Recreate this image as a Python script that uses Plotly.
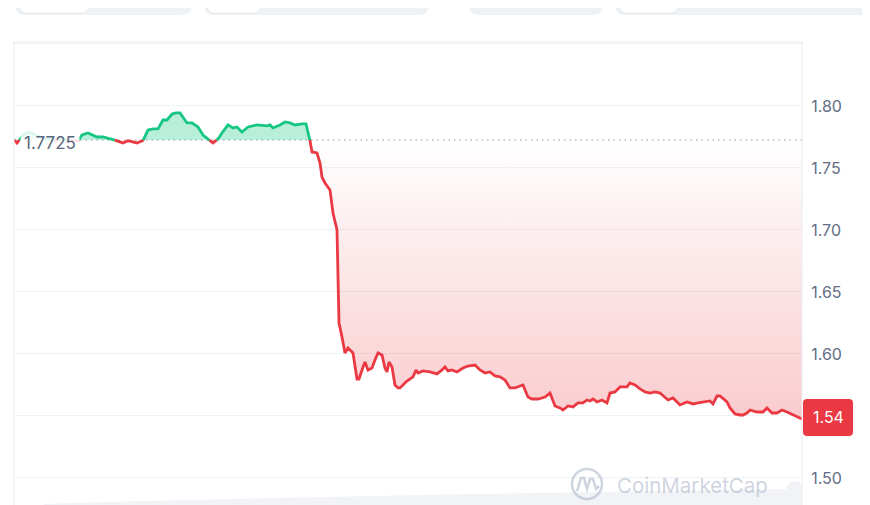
import math

import plotly.graph_objects as go

# 24h price line, baseline = opening price (dotted reference)
BASE = 1.7725

# time offset along the x axis (arbitrary units)
t = [0, 3, 10, 15, 20, 26, 34, 42, 50, 58, 64, 68, 74, 79, 83, 89, 93, 98, 103, 109,
     114, 119, 123, 129, 134, 139, 144, 149, 153, 158, 162, 166, 170, 173, 178, 184, 189, 194, 199, 204,
     208, 214, 219, 223, 228, 234, 243, 249, 253, 256, 259, 266, 271, 276, 281, 288, 292, 296, 298, 303,
     306, 308, 311, 316, 319, 323, 325, 328, 331, 334, 339, 343, 345, 349, 351, 354, 358, 361, 364, 368,
     371, 373, 375, 378, 381, 384, 386, 390, 393, 399, 402, 404, 409, 416, 423, 428, 431, 434, 438, 443,
     449, 454, 461, 466, 471, 476, 481, 486, 491, 496, 501, 506, 509, 514, 518, 524, 531, 536, 541, 546,
     549, 554, 559, 564, 569, 573, 576, 579, 583, 588, 593, 596, 601, 606, 613, 616, 621, 626, 631, 636,
     641, 646, 651, 654, 659, 666, 673, 679, 684, 691, 696, 699, 703, 706, 713, 716, 721, 726, 729, 733,
     736, 743, 749, 753, 758, 763, 768, 773, 779, 788]

price = [1.7730, 1.7702, 1.7774, 1.7790, 1.7774, 1.7750, 1.7734, 1.7722, 1.7730, 1.7718,
         1.7718, 1.7766, 1.7782, 1.7766, 1.7750, 1.7750, 1.7742, 1.7734, 1.7718, 1.7702,
         1.7720, 1.7710, 1.7702, 1.7722, 1.7806, 1.7815, 1.7815, 1.7887, 1.7887, 1.7935,
         1.7944, 1.7944, 1.7903, 1.7863, 1.7863, 1.7831, 1.7766, 1.7734, 1.7702, 1.7734,
         1.7782, 1.7847, 1.7823, 1.7831, 1.7790, 1.7831, 1.7847, 1.7839, 1.7839, 1.7847,
         1.7823, 1.7847, 1.7871, 1.7863, 1.7847, 1.7855, 1.7855, 1.7720, 1.7629, 1.7621,
         1.7540, 1.7427, 1.7379, 1.7323, 1.7137, 1.7000, 1.6250, 1.6137, 1.6008, 1.6048,
         1.6008, 1.5798, 1.5798, 1.5895, 1.5935, 1.5871, 1.5887, 1.5952, 1.6008, 1.5992,
         1.5887, 1.5855, 1.5935, 1.5895, 1.5750, 1.5726, 1.5726, 1.5758, 1.5782, 1.5815,
         1.5871, 1.5847, 1.5863, 1.5855, 1.5839, 1.5871, 1.5895, 1.5863, 1.5871, 1.5855,
         1.5887, 1.5903, 1.5911, 1.5871, 1.5847, 1.5855, 1.5823, 1.5815, 1.5790, 1.5726,
         1.5726, 1.5742, 1.5750, 1.5653, 1.5637, 1.5637, 1.5653, 1.5685, 1.5581, 1.5565,
         1.5548, 1.5581, 1.5573, 1.5605, 1.5605, 1.5629, 1.5621, 1.5637, 1.5613, 1.5629,
         1.5605, 1.5685, 1.5694, 1.5734, 1.5734, 1.5766, 1.5750, 1.5718, 1.5694, 1.5685,
         1.5694, 1.5685, 1.5653, 1.5629, 1.5645, 1.5589, 1.5613, 1.5597, 1.5605, 1.5613,
         1.5621, 1.5597, 1.5661, 1.5661, 1.5613, 1.5565, 1.5516, 1.5508, 1.5508, 1.5524,
         1.5548, 1.5532, 1.5532, 1.5565, 1.5524, 1.5524, 1.5548, 1.5532, 1.5508, 1.5476]

# faint volume strip along the bottom
vol_t = [30, 120, 220, 320, 420, 520, 620, 700, 760, 772, 776, 786, 788]
vol = [0.2, 0.8, 1.3, 1.8, 2.2, 2.6, 3.0, 3.2, 3.4, 3.4, 5.0, 5.0, 3.6]

y_ticks = [1.50, 1.55, 1.60, 1.65, 1.70, 1.75, 1.80, 1.85]
y_ticktext = ["1.50", "", "1.60", "1.65", "1.70", "1.75", "1.80", ""]

GREEN = "#16c784"
RED = "#ea3943"
GRID = "#eff2f5"
TEXT = "#58667e"
FONT = "Inter, 'Noto Sans', sans-serif"

# the page body has an 8px margin; size the figure so the plot lands where it should
OFF = 8
W, H = 870 - OFF, 505 - OFF
L, R, T, B = 14 - OFF, 68, 42 - OFF, 0
PW, PH = W - L - R, H - T - B
X_RANGE = [0, 788]
Y_RANGE = [1.4782, 1.8516]

assert len(t) == len(price)


def split_at_base(xs, ys, base):
    """Insert the points where the line crosses the baseline."""
    ox, oy = [xs[0]], [ys[0]]
    for i in range(1, len(xs)):
        x0, y0, x1, y1 = xs[i - 1], ys[i - 1], xs[i], ys[i]
        if (y0 - base) * (y1 - base) < 0:
            ox.append(x0 + (base - y0) * (x1 - x0) / (y1 - y0))
            oy.append(base)
        ox.append(x1)
        oy.append(y1)
    return ox, oy


def px(x, y):
    """Screen pixel -> paper coords."""
    return (x - OFF - L) / PW, (H - B - (y - OFF)) / PH


def rrect(x0, y0, x1, y1, r):
    """Rounded rectangle path in paper coords from screen pixels."""
    pts = [("M", x0 + r, y0), ("L", x1 - r, y0), ("Q", x1, y0, x1, y0 + r),
           ("L", x1, y1 - r), ("Q", x1, y1, x1 - r, y1), ("L", x0 + r, y1),
           ("Q", x0, y1, x0, y1 - r), ("L", x0, y0 + r), ("Q", x0, y0, x0 + r, y0)]
    out = []
    for p in pts:
        cmd, nums = p[0], p[1:]
        coords = []
        for i in range(0, len(nums), 2):
            a, b = px(nums[i], nums[i + 1])
            coords.append(f"{a:.5f},{b:.5f}")
        out.append(cmd + " ".join(coords))
    return " ".join(out) + " Z"


xs, ys = split_at_base(t, price, BASE)
up = [max(v, BASE) for v in ys]
dn = [min(v, BASE) for v in ys]
green_line = [v if v >= BASE else None for v in ys]
red_line = [v if v <= BASE else None for v in ys]
base_line = [BASE] * len(xs)

fig = go.Figure()

fig.add_trace(go.Scatter(x=vol_t, y=vol, yaxis="y2", mode="lines", line=dict(width=0),
                         fill="tozeroy", fillcolor="rgba(207,214,228,0.3)", hoverinfo="skip"))

# green area above baseline
fig.add_trace(go.Scatter(x=xs, y=base_line, mode="lines", line=dict(width=0), hoverinfo="skip"))
fig.add_trace(go.Scatter(x=xs, y=up, mode="lines", line=dict(width=0), fill="tonexty",
                         fillcolor="rgba(22,199,132,0.3)", hoverinfo="skip"))
# red gradient area below baseline
fig.add_trace(go.Scatter(x=xs, y=base_line, mode="lines", line=dict(width=0), hoverinfo="skip"))
fig.add_trace(go.Scatter(
    x=xs, y=dn, mode="lines", line=dict(width=0), fill="tonexty",
    fillgradient=dict(type="vertical", start=BASE, stop=min(price),
                      colorscale=[[0, "rgba(234,57,67,0.0)"], [1, "rgba(234,57,67,0.26)"]]),
    hoverinfo="skip"))

fig.add_trace(go.Scatter(x=X_RANGE, y=[BASE, BASE], mode="lines",
                         line=dict(color="#a6adbb", width=1.3, dash="1.5px,4px"), hoverinfo="skip"))

fig.add_trace(go.Scatter(x=xs, y=green_line, mode="lines", line=dict(color=GREEN, width=2.8),
                         connectgaps=False))
fig.add_trace(go.Scatter(x=xs, y=red_line, mode="lines", line=dict(color=RED, width=2.8),
                         connectgaps=False))

shapes = []
# plot frame (left, right, top)
for x0, y0, x1, y1 in [(0, 0, 0, 1), (1, 0, 1, 1), (0, 1, 1, 1)]:
    shapes.append(dict(type="line", xref="paper", yref="paper", x0=x0, y0=y0, x1=x1, y1=y1,
                       line=dict(color="#e9ecf1", width=1)))

# period tabs peeking in at the top
for a, b in [(15, 192), (204, 429), (469, 603), (615, 890)]:
    shapes.append(dict(type="path", xref="paper", yref="paper", path=rrect(a, -20, b, 15, 10),
                       fillcolor="#eff2f5", line=dict(width=0)))
for a, b in [(19, 89), (207, 261), (619, 678)]:
    shapes.append(dict(type="path", xref="paper", yref="paper", path=rrect(a, -20, b, 13, 8),
                       fillcolor="#ffffff", line=dict(color="rgba(88,102,126,0.10)", width=1)))

# last price badge
last = price[-1]
yc = OFF + T + (Y_RANGE[1] - last) / (Y_RANGE[1] - Y_RANGE[0]) * PH
shapes.append(dict(type="path", xref="paper", yref="paper", path=rrect(803, yc - 20, 853, yc + 17, 4),
                   fillcolor=RED, line=dict(width=0)))

# watermark logo
cx, cy, r = 587, 484, 15
ax0, ay0 = px(cx - r, cy - r)
ax1, ay1 = px(cx + r, cy + r)
wm = "rgba(165,176,198,0.55)"
shapes.append(dict(type="circle", xref="paper", yref="paper", x0=ax0, y0=ay0, x1=ax1, y1=ay1,
                   line=dict(color=wm, width=2.5)))
wave = [(577, 491), (581, 478), (584, 478), (587, 489), (590, 479), (593, 479), (596, 489), (599, 486)]
path = "M" + " L".join("{:.5f},{:.5f}".format(*px(a, b)) for a, b in wave)
shapes.append(dict(type="path", xref="paper", yref="paper", path=path, line=dict(color=wm, width=2.5)))

annotations = [
    dict(xref="paper", yref="y", x=px(20, 0)[0], y=BASE, yshift=-3, xanchor="left", yanchor="middle",
         text=f"{BASE}", showarrow=False, bgcolor="rgba(255,255,255,0.85)", borderpad=3,
         font=dict(family=FONT, size=17, color=TEXT)),
    dict(xref="paper", yref="paper", x=px(828, 0)[0], y=px(0, yc - 1.5)[1], xanchor="center", yanchor="middle",
         text=f"{math.floor(last * 100) / 100:.2f}", showarrow=False,
         font=dict(family=FONT, size=16, color="#ffffff")),
    dict(xref="paper", yref="paper", x=px(615, 0)[0], y=px(0, 485)[1], xanchor="left", yanchor="middle",
         text="CoinMarketCap", showarrow=False,
         font=dict(family=FONT, size=20.5, color=wm)),
]

fig.update_layout(
    width=W, height=H,
    margin=dict(l=L, r=R, t=T, b=B),
    paper_bgcolor="#ffffff", plot_bgcolor="#ffffff",
    showlegend=False,
    xaxis=dict(range=X_RANGE, visible=False, fixedrange=True),
    yaxis=dict(range=Y_RANGE, side="right", tickvals=y_ticks, ticktext=y_ticktext,
               showgrid=True, gridcolor=GRID, gridwidth=1, zeroline=False,
               ticks="outside", ticklen=5, tickcolor="rgba(0,0,0,0)",
               tickfont=dict(family=FONT, size=16, color="#616e85"), fixedrange=True),
    yaxis2=dict(range=[0, 100], overlaying="y", visible=False, fixedrange=True),
    shapes=shapes,
    annotations=annotations,
    font=dict(family=FONT),
)

fig.write_html("out.html")
